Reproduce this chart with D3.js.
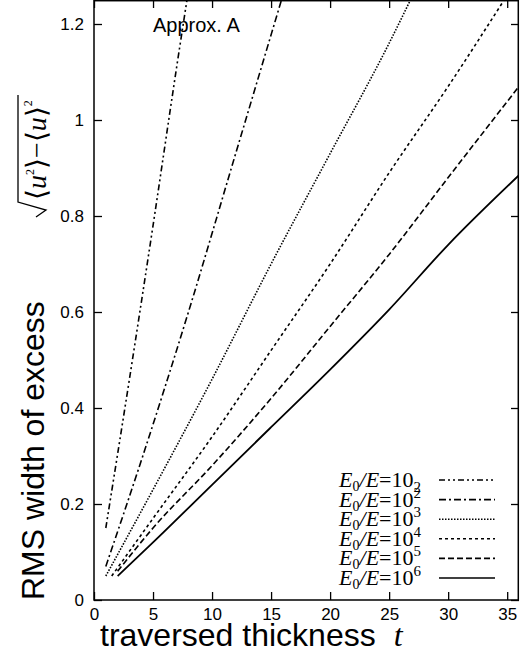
<!DOCTYPE html>
<html><head><meta charset="utf-8">
<script src="https://cdn.jsdelivr.net/npm/d3@7"></script>
<style>body{margin:0;background:#fff}</style>
</head><body>
<script>
// data
const xTicks = [0, 5, 10, 15, 20, 25, 30, 35];
const yTicks = [0, 0.2, 0.4, 0.6, 0.8, 1, 1.2];
const legendExp = ["2", "2", "3", "4", "5", "6"];
const legendSub = [true, false, false, false, false, false];
const dashes = ["6,3,2,3,2,3", "7,3,2,3", "1.5,1.5", "3,3", "6,3", null];
const s10 = [[1, 0.15], [3, 0.46], [5, 0.78], [7, 1.11], [8, 1.27]];
const s100 = [[1, 0.07], [4, 0.29], [8, 0.60], [12, 0.93], [16, 1.26]];
const s1e3 = [[1, 0.05], [5, 0.23], [10, 0.46], [15, 0.70], [20, 0.93], [25, 1.16], [27, 1.26]];
const s1e4 = [[1.5, 0.05], [5, 0.17], [10, 0.34], [15, 0.52], [20, 0.70], [25, 0.89], [30, 1.07], [35, 1.26]];
const s1e5 = [[2, 0.06], [5, 0.15], [10, 0.28], [15, 0.42], [20, 0.57], [25, 0.72], [30, 0.88], [36, 1.07]];
const s1e6 = [[2, 0.05], [5, 0.12], [10, 0.24], [15, 0.36], [20, 0.48], [25, 0.605], [30, 0.74], [36, 0.885]];
const series = [s10, s100, s1e3, s1e4, s1e5, s1e6];

const W = 520, H = 654;
const m = {l: 94, r: 1, t: 0, b: 54};
const x = d3.scaleLinear().domain([0, 36]).range([m.l, W - m.r]);
const y = d3.scaleLinear().domain([0, 1.25]).range([H - m.b, m.t]);

const svg = d3.select("body").append("svg").attr("width", W).attr("height", H)
  .style("font-family", "Liberation Sans, Arial, sans-serif");

svg.append("defs").append("clipPath").attr("id", "c")
  .append("rect").attr("x", m.l).attr("y", m.t).attr("width", W - m.l - m.r).attr("height", H - m.t - m.b);

const xa = svg.append("g").attr("transform", `translate(0,${H - m.b})`)
  .call(d3.axisBottom(x).tickValues(xTicks).tickSize(-8).tickPadding(8));
const xt = svg.append("g").call(d3.axisTop(x).tickValues(xTicks).tickSize(-8).tickFormat(""));
const ya = svg.append("g").attr("transform", `translate(${m.l},0)`)
  .call(d3.axisLeft(y).tickValues(yTicks).tickSize(-8).tickPadding(10).tickFormat(d => d === 0 ? "0" : d3.format("")(d)));
const yr = svg.append("g").attr("transform", `translate(${W - m.r},0)`)
  .call(d3.axisRight(y).tickValues(yTicks).tickSize(-8).tickFormat(""));
[xa, xt, ya, yr].forEach(g => {
  g.selectAll("path").remove();
  g.selectAll("line").attr("stroke", "#000").attr("stroke-width", 1.3);
  g.selectAll("text").attr("font-size", 17).attr("fill", "#000").attr("font-family", "Liberation Sans, Arial, sans-serif");
});
svg.append("rect").attr("x", m.l).attr("y", m.t + 0.7).attr("width", W - m.l - m.r - 0.7).attr("height", H - m.t - m.b - 0.7)
  .attr("fill", "none").attr("stroke", "#000").attr("stroke-width", 1.5);

const line = d3.line().x(d => x(d[0])).y(d => y(d[1])).curve(d3.curveMonotoneX);
svg.append("g").attr("clip-path", "url(#c)").selectAll("path").data(series).join("path")
  .attr("d", line).attr("fill", "none").attr("stroke", "#000")
  .attr("stroke-width", (d, i) => i === 5 ? 1.8 : 1.6)
  .attr("stroke-dasharray", (d, i) => dashes[i]);

// legend
const lg = svg.append("g").attr("font-family", "Liberation Serif, Times New Roman, serif");
legendExp.forEach((e, i) => {
  const yy = 480 + i * 19.6;
  const t = lg.append("text").attr("x", 421).attr("y", yy + 7).attr("text-anchor", "end").attr("font-size", 22);
  t.append("tspan").attr("font-style", "italic").text("E");
  t.append("tspan").attr("font-size", 14).attr("dy", 4).text("0");
  t.append("tspan").attr("dy", -4).attr("font-style", "italic").text("/E");
  t.append("tspan").text("=10");
  t.append("tspan").attr("font-size", 15).attr("dy", legendSub[i] ? 5 : -9).text(e);
  lg.append("line").attr("x1", 439).attr("x2", 495).attr("y1", yy).attr("y2", yy)
    .attr("stroke", "#000").attr("stroke-width", 1.6).attr("stroke-dasharray", dashes[i]);
});

svg.append("text").attr("x", 153).attr("y", 32).attr("font-size", 20).text("Approx. A");

// x label
const xl = svg.append("text").attr("x", 100).attr("y", 646).attr("font-size", 32);
xl.append("tspan").text("traversed thickness");
xl.append("tspan").attr("dx", 18).attr("font-family", "Liberation Serif, serif").attr("font-style", "italic").text("t");

// y label
const yl = svg.append("g").attr("transform", "translate(44,600) rotate(-90)");
yl.append("text").attr("x", 0).attr("y", 0).attr("font-size", 32).text("RMS width of excess");
const f = yl.append("text").attr("x", 400).attr("y", 2).attr("font-size", 28).attr("font-family", "Liberation Serif, serif");
f.append("tspan").text("⟨");
f.append("tspan").attr("font-style", "italic").text("u");
f.append("tspan").attr("font-size", 12).attr("dy", -12).text("2");
f.append("tspan").attr("dy", 12).text("⟩−⟨");
f.append("tspan").attr("font-style", "italic").text("u");
f.append("tspan").text("⟩");
f.append("tspan").attr("font-size", 12).attr("dy", -14).text("2");
yl.append("path").attr("d", "M383,-8 L390,2 L398,-26 L505,-26").attr("fill", "none").attr("stroke", "#000").attr("stroke-width", 1.3);
</script>
</body></html>
